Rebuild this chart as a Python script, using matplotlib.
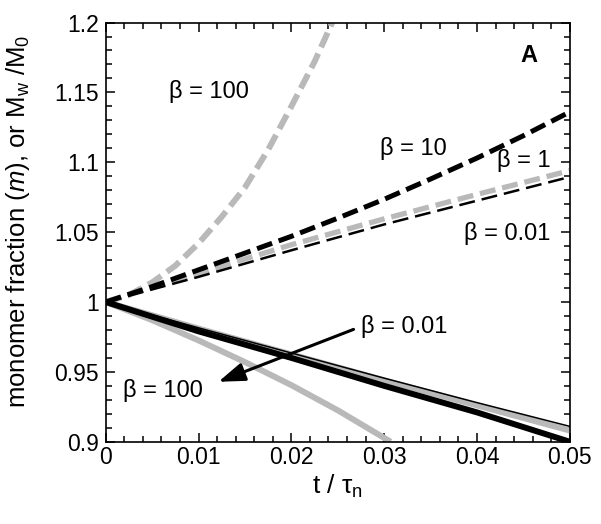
import matplotlib
matplotlib.use("Agg")
import matplotlib.pyplot as plt
from matplotlib.ticker import MultipleLocator, FuncFormatter

plt.rcParams['font.family'] = ['Liberation Sans', 'DejaVu Sans']
plt.rcParams['mathtext.fontset'] = 'custom'
plt.rcParams['mathtext.rm'] = 'Liberation Sans'
plt.rcParams['mathtext.it'] = 'Liberation Sans:italic'
plt.rcParams['mathtext.bf'] = 'Liberation Sans:bold'
plt.rcParams['lines.scale_dashes'] = False

# ---- data (Mw/M0, dashed) ----
t_b100_mw = [0, 0.0025, 0.005, 0.0075, 0.01, 0.0125, 0.015, 0.0175, 0.02, 0.0225, 0.0244]
mw_b100 = [1.0, 1.005, 1.014, 1.026, 1.042, 1.061, 1.082, 1.109, 1.140, 1.172, 1.200]
t_b10_mw = [0, 0.005, 0.01, 0.015, 0.02, 0.025, 0.03, 0.035, 0.04, 0.045, 0.05]
mw_b10 = [1.0, 1.011, 1.023, 1.035, 1.047, 1.060, 1.0735, 1.088, 1.103, 1.119, 1.136]
t_grid = [0, 0.01, 0.02, 0.03, 0.04, 0.05]
mw_b1 = [1.0, 1.0205, 1.041, 1.0595, 1.077, 1.094]
mw_b001 = [1.0, 1.018, 1.037, 1.0555, 1.0725, 1.0895]

# ---- data (monomer fraction m, solid) ----
m_b001 = [1.0, 0.9815, 0.9635, 0.9455, 0.928, 0.911]
m_b1 = [1.0, 0.981, 0.9625, 0.944, 0.926, 0.908]
m_b10 = [1.0, 0.979, 0.960, 0.940, 0.921, 0.900]
t_b100_m = [0, 0.005, 0.01, 0.015, 0.02, 0.025, 0.0307]
m_b100 = [1.0, 0.9870, 0.9725, 0.9570, 0.9405, 0.9225, 0.900]

xticks = [0, 0.01, 0.02, 0.03, 0.04, 0.05]
yticks = [0.9, 0.95, 1.0, 1.05, 1.1, 1.15, 1.2]

GRAY = '#b9b9b9'
fig = plt.figure(figsize=(6.01, 5.24), dpi=100)
ax = fig.add_axes([0.176, 0.157, 0.772, 0.800])

dash = (0, (11.5, 5.0))
# dashed Mw/M0
ax.plot(t_b100_mw, mw_b100, color=GRAY, lw=4.3, linestyle=dash, zorder=2)
ax.plot(t_grid, mw_b1, color=GRAY, lw=3.8, linestyle=dash, zorder=2)
ax.plot(t_grid, mw_b001, color='black', lw=1.8, linestyle=dash, zorder=3)
ax.plot(t_b10_mw, mw_b10, color='black', lw=3.6, linestyle=dash, zorder=3)

# solid m
ax.plot(t_b100_m, m_b100, color=GRAY, lw=4.3, solid_capstyle='butt', zorder=2)
ax.plot(t_grid, m_b1, color=GRAY, lw=4.3, solid_capstyle='butt', zorder=2)
ax.plot(t_grid, m_b10, color='black', lw=4.3, solid_capstyle='butt', zorder=3)
ax.plot(t_grid, m_b001, color='black', lw=1.1, zorder=4)

ax.set_xlim(0, 0.05)
ax.set_ylim(0.9, 1.2)
ax.set_xticks(xticks)
ax.set_yticks(yticks)
ax.xaxis.set_minor_locator(MultipleLocator(0.002))
ax.yaxis.set_minor_locator(MultipleLocator(0.01))
ax.xaxis.set_major_formatter(FuncFormatter(lambda v, p: '0' if abs(v) < 1e-12 else ('%g' % v)))
ax.yaxis.set_major_formatter(FuncFormatter(lambda v, p: '%g' % round(v, 3)))
ax.tick_params(which='both', direction='in', top=True, right=True, labelsize=16.5, width=1.1)
ax.tick_params(which='major', length=6.5)
ax.tick_params(axis='x', which='major', pad=3)
ax.tick_params(axis='y', which='major', pad=5)
ax.tick_params(which='minor', length=4)
for s in ax.spines.values():
    s.set_linewidth(1.2)

ax.set_xlabel(r't / τ$_{\rm n}$', fontsize=19, labelpad=3)
ax.set_ylabel(r'monomer fraction ($m$), or M$_{\rm w}$ /M$_{\rm 0}$', fontsize=18.5)
ax.yaxis.set_label_coords(-0.16, 0.525)

fs = 17
ax.text(0.01114, 1.1504, 'β = 100', fontsize=fs, ha='center', va='center')
ax.text(0.03314, 1.1099, 'β = 10', fontsize=fs, ha='center', va='center')
ax.text(0.0451, 1.1015, 'β = 1', fontsize=fs, ha='center', va='center')
ax.text(0.0433, 1.049, 'β = 0.01', fontsize=fs, ha='center', va='center')
ax.text(0.0456, 1.1766, 'A', fontsize=17, fontweight='bold', ha='center', va='center')
ax.text(0.03216, 0.9823, 'β = 0.01', fontsize=fs, ha='center', va='center')
ax.text(0.00621, 0.937, 'β = 100', fontsize=fs, ha='center', va='center')

ax.annotate('', xy=(0.01214, 0.9429), xytext=(0.0267, 0.9804),
            arrowprops=dict(arrowstyle='-|>,head_length=0.8,head_width=0.28',
                            lw=2.2, color='black', mutation_scale=20,
                            shrinkA=0, shrinkB=0), zorder=5)

fig.savefig('out.png', dpi=100)
